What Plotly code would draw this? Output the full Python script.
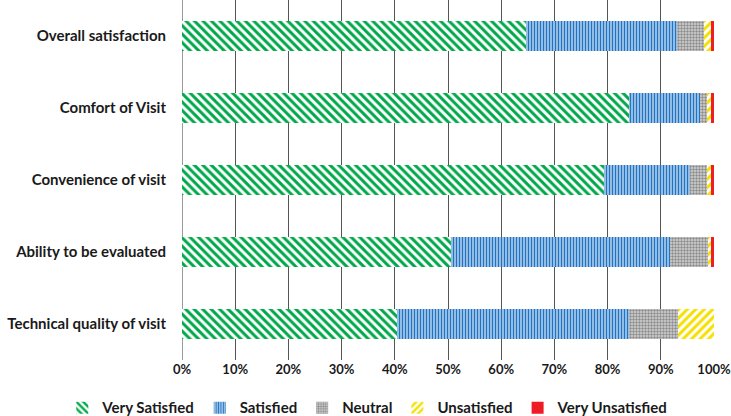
import plotly.graph_objects as go

categories = ["Overall satisfaction", "Comfort of Visit", "Convenience of visit",
              "Ability to be evaluated", "Technical quality of visit"]
very_satisfied = [64.7, 84.0, 79.3, 50.6, 40.4]
satisfied = [28.3, 13.4, 16.2, 41.1, 43.6]
neutral = [5.1, 1.3, 3.2, 7.2, 9.2]
unsatisfied = [1.3, 0.7, 0.7, 0.5, 6.8]
very_unsatisfied = [0.6, 0.6, 0.6, 0.6, 0.0]
x_ticks = [0, 10, 20, 30, 40, 50, 60, 70, 80, 90, 100]

FONT = "Lato"

series = [
    ("Very Satisfied", very_satisfied, dict(color="white", line=dict(width=0),
        pattern=dict(shape="\\", fgcolor="#00a84a", bgcolor="white", fgopacity=1,
                     size=6, solidity=0.5))),
    ("Satisfied", satisfied, dict(color="white", line=dict(width=0),
        pattern=dict(shape="|", fgcolor="#1f74c4", bgcolor="white", fgopacity=1,
                     size=3, solidity=0.65))),
    ("Neutral", neutral, dict(color="#cfcfcf", line=dict(width=0),
        pattern=dict(shape=".", fgcolor="#8c8c8c", bgcolor="#d4d4d4", fgopacity=1,
                     size=3, solidity=0.5))),
    ("Unsatisfied", unsatisfied, dict(color="white", line=dict(width=0),
        pattern=dict(shape="/", fgcolor="#f5e000", bgcolor="white", fgopacity=1,
                     size=6, solidity=0.5))),
    ("Very Unsatisfied", very_unsatisfied, dict(color="#ee1c24", line=dict(width=0))),
]

fig = go.Figure()
for name, vals, marker in series:
    fig.add_trace(go.Bar(y=categories, x=vals, name=name, orientation="h",
                         marker=marker, hoverinfo="x+name"))

fig.update_layout(
    barmode="stack",
    bargap=0.58,
    width=731, height=416,
    margin=dict(l=182, r=17, t=0, b=56, autoexpand=False),
    plot_bgcolor="white", paper_bgcolor="white",
    font=dict(family=FONT, size=15, color="#1a1a1a"),
    showlegend=True,
    legend=dict(orientation="h", x=-0.225, xanchor="left", y=-0.133, yanchor="middle",
                traceorder="normal",
                font=dict(family=FONT, size=15, color="#1a1a1a", weight="bold"),
                itemwidth=30, tracegroupgap=0),
    xaxis=dict(range=[0, 100], tickvals=x_ticks, ticktext=[f"{v}%" for v in x_ticks],
               showgrid=True, gridcolor="#555555", gridwidth=1,
               zeroline=True, zerolinecolor="#9a9a9a", zerolinewidth=1,
               showline=False, ticks="", ticklen=0, automargin=False,
               ticklabeloverflow="allow",
               tickfont=dict(family=FONT, size=13, color="#1a1a1a", weight="bold")),
    yaxis=dict(autorange="reversed", showgrid=False, zeroline=False, showline=False,
               ticks="", ticklabelstandoff=15, automargin=False,
               tickfont=dict(family=FONT, size=15, color="#1a1a1a", weight="bold")),
)

fig.write_html("out.html", config={"displayModeBar": False},
               post_script="document.body.style.margin='0';")
